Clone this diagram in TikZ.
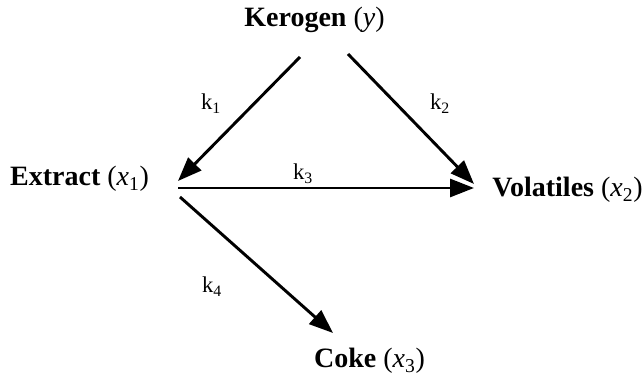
\documentclass[tikz,border=0pt]{standalone}
\usepackage{fontspec}
\setmainfont{Liberation Serif}
\usetikzlibrary{arrows.meta}
\tikzset{
  species/.style={font=\fontsize{21}{25}\selectfont, inner sep=0pt, anchor=base},
  rate/.style={font=\fontsize{17}{20}\selectfont, inner sep=0pt, anchor=base},
  reac/.style={line width=2.2pt, -{Triangle[length=18pt,width=13.5pt]}}
}
\begin{document}
\begin{tikzpicture}[x=0.75pt,y=-0.75pt]
\path[use as bounding box] (0,0) rectangle (644,377);
\node[species] (ker) at (314.5,27) {\textbf{Kerogen} (\textit{y})};
\node[species] (ext) at (79.5,186) {\textbf{Extract} (\textit{x}\textsubscript{1})};
\node[species] (vol) at (567.5,197) {\textbf{Volatiles} (\textit{x}\textsubscript{2})};
\node[species] (cok) at (369.5,368) {\textbf{Coke} (\textit{x}\textsubscript{3})};
\node[rate] (k1) at (211,110) {k\textsubscript{1}};
\node[rate] (k2) at (440,110) {k\textsubscript{2}};
\node[rate] (k3) at (303,180) {k\textsubscript{3}};
\node[rate] (k4) at (212,293) {k\textsubscript{4}};
\coordinate (kerL) at (300,57);
\coordinate (kerR) at (348,54);
\coordinate (extIn) at (178,181);
\coordinate (extOut) at (178,188);
\coordinate (extDown) at (180,197);
\coordinate (volIn) at (474,184);
\coordinate (volIn2) at (474,188);
\coordinate (cokIn) at (333,333);
\draw[reac] (kerL) -- (extIn);
\draw[reac] (kerR) -- (volIn);
\draw[reac] (extOut) -- (volIn2);
\draw[reac] (extDown) -- (cokIn);
\end{tikzpicture}
\end{document}
